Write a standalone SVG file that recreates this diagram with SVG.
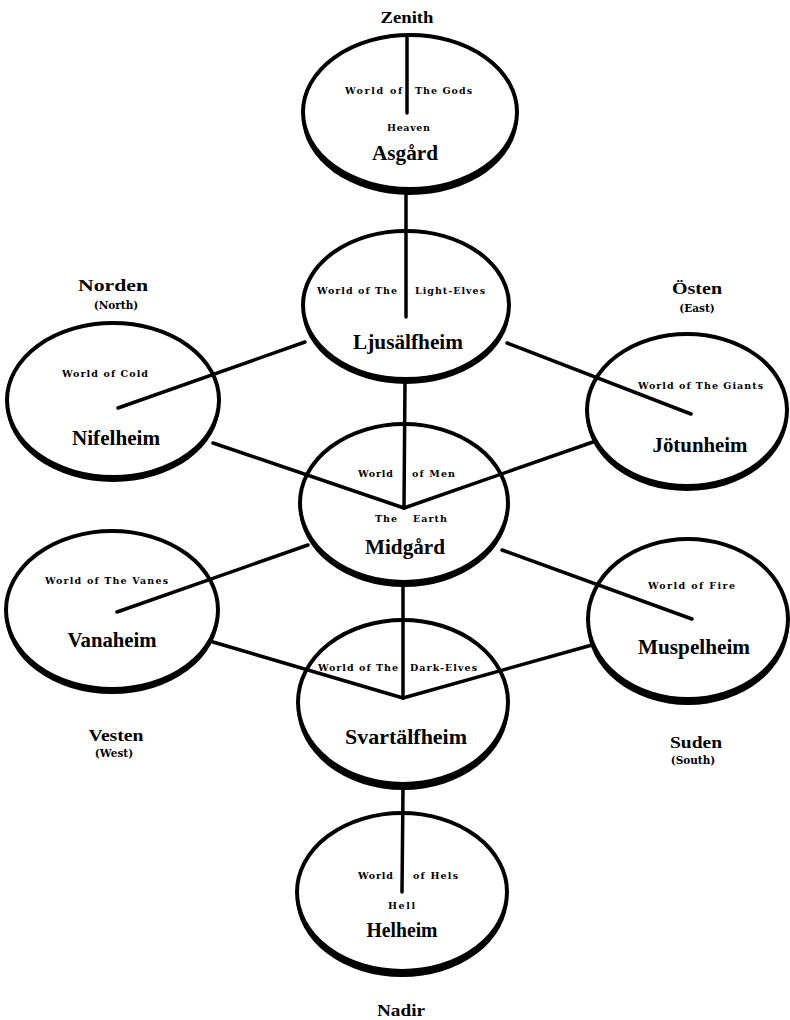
<svg xmlns="http://www.w3.org/2000/svg" width="790" height="1020" viewBox="0 0 790 1020">
<style>
.shadow{fill:#000}
.world{fill:#fff;stroke:#000;stroke-width:4}
.conn line{stroke:#000;stroke-width:3.5;stroke-linecap:round}
.name{font-family:"Liberation Serif","DejaVu Serif",serif;font-weight:bold;font-size:21px;fill:#000;text-anchor:middle}
.sm{font-family:"DejaVu Serif","Liberation Serif",serif;font-weight:bold;font-size:9.5px;fill:#000}
.dir{font-family:"Liberation Serif","DejaVu Serif",serif;font-weight:bold;font-size:17px;fill:#000;text-anchor:middle}
.dsub{font-family:"DejaVu Serif","Liberation Serif",serif;font-weight:bold;font-size:10.5px;fill:#000;text-anchor:middle}
</style>
<rect width="790" height="1020" fill="#fff"/>

<g id="asgard">
<ellipse class="shadow" cx="410" cy="117" rx="108" ry="78"/>
<ellipse class="world" cx="410" cy="112" rx="107" ry="77"/>
<text class="sm" x="345" y="94" textLength="57" lengthAdjust="spacing">World of</text>
<text class="sm" x="415" y="94" textLength="57" lengthAdjust="spacing">The Gods</text>
<text class="sm" x="387" y="131" textLength="43" lengthAdjust="spacing">Heaven</text>
<text class="name" x="405" y="160" textLength="66" lengthAdjust="spacingAndGlyphs">Asgård</text>
</g>

<g id="ljusalfheim">
<ellipse class="shadow" cx="406" cy="309" rx="104" ry="75"/>
<ellipse class="world" cx="406" cy="305" rx="103" ry="74"/>
<text class="sm" x="317" y="294" textLength="80" lengthAdjust="spacing">World of The</text>
<text class="sm" x="415" y="294" textLength="70" lengthAdjust="spacing">Light-Elves</text>
<text class="name" x="408" y="349" textLength="110" lengthAdjust="spacingAndGlyphs">Ljusälfheim</text>
</g>

<g id="nifelheim">
<ellipse class="shadow" cx="113" cy="404" rx="107" ry="78"/>
<ellipse class="world" cx="113" cy="400" rx="106" ry="77"/>
<text class="sm" x="62" y="377" textLength="86" lengthAdjust="spacing">World of  Cold</text>
<text class="name" x="116" y="445" textLength="88" lengthAdjust="spacingAndGlyphs">Nifelheim</text>
</g>

<g id="jotunheim">
<ellipse class="shadow" cx="687" cy="414" rx="101" ry="77"/>
<ellipse class="world" cx="687" cy="410" rx="100" ry="76"/>
<text class="sm" x="638" y="389" textLength="125" lengthAdjust="spacing">World of The Giants</text>
<text class="name" x="700" y="452" textLength="95" lengthAdjust="spacingAndGlyphs">Jötunheim</text>
</g>

<g id="midgard">
<ellipse class="shadow" cx="404" cy="507" rx="105" ry="80"/>
<ellipse class="world" cx="404" cy="503" rx="104" ry="79"/>
<text class="sm" x="358" y="477" textLength="35" lengthAdjust="spacing">World</text>
<text class="sm" x="412" y="477" textLength="43" lengthAdjust="spacing">of Men</text>
<text class="sm" x="375" y="522" textLength="22" lengthAdjust="spacing">The</text>
<text class="sm" x="413" y="522" textLength="34" lengthAdjust="spacing">Earth</text>
<text class="name" x="405" y="554" textLength="80" lengthAdjust="spacingAndGlyphs">Midgård</text>
</g>

<g id="vanaheim">
<ellipse class="shadow" cx="112" cy="614" rx="107" ry="80"/>
<ellipse class="world" cx="112" cy="610" rx="106" ry="79"/>
<text class="sm" x="45" y="584" textLength="123" lengthAdjust="spacing">World of The Vanes</text>
<text class="name" x="112" y="647" textLength="89" lengthAdjust="spacingAndGlyphs">Vanaheim</text>
</g>

<g id="muspelheim">
<ellipse class="shadow" cx="688" cy="624" rx="101" ry="81"/>
<ellipse class="world" cx="688" cy="619" rx="100" ry="80"/>
<text class="sm" x="648" y="589" textLength="87" lengthAdjust="spacing">World of  Fire</text>
<text class="name" x="694" y="654" textLength="112" lengthAdjust="spacingAndGlyphs">Muspelheim</text>
</g>

<g id="svartalfheim">
<ellipse class="shadow" cx="403" cy="707" rx="106" ry="83"/>
<ellipse class="world" cx="403" cy="702" rx="105" ry="82"/>
<text class="sm" x="318" y="671" textLength="80" lengthAdjust="spacing">World of The</text>
<text class="sm" x="410" y="671" textLength="67" lengthAdjust="spacing">Dark-Elves</text>
<text class="name" x="406" y="744" textLength="122" lengthAdjust="spacingAndGlyphs">Svartälfheim</text>
</g>

<g id="helheim">
<ellipse class="shadow" cx="402" cy="897" rx="106" ry="80"/>
<ellipse class="world" cx="402" cy="892" rx="105" ry="79"/>
<text class="sm" x="358" y="879" textLength="35" lengthAdjust="spacing">World</text>
<text class="sm" x="413" y="879" textLength="45" lengthAdjust="spacing">of Hels</text>
<text class="sm" x="388" y="909" textLength="27" lengthAdjust="spacing">Hell</text>
<text class="name" x="402" y="937" textLength="71" lengthAdjust="spacingAndGlyphs">Helheim</text>
</g>

<g id="directions">
<text class="dir" x="407" y="23" textLength="53" lengthAdjust="spacingAndGlyphs">Zenith</text>
<text class="dir" x="113" y="291" textLength="70" lengthAdjust="spacingAndGlyphs">Norden</text>
<text class="dsub" x="116" y="309">(North)</text>
<text class="dir" x="697" y="294" textLength="50" lengthAdjust="spacingAndGlyphs">Östen</text>
<text class="dsub" x="697" y="312">(East)</text>
<text class="dir" x="116" y="741" textLength="55" lengthAdjust="spacingAndGlyphs">Vesten</text>
<text class="dsub" x="114" y="757">(West)</text>
<text class="dir" x="696" y="748" textLength="52" lengthAdjust="spacingAndGlyphs">Suden</text>
<text class="dsub" x="693" y="764">(South)</text>
<text class="dir" x="401" y="1016" textLength="48" lengthAdjust="spacingAndGlyphs">Nadir</text>
</g>

<g id="connectors" class="conn">
<line x1="407" y1="36" x2="407" y2="113"/>
<line x1="406" y1="191" x2="406" y2="317"/>
<line x1="405" y1="380" x2="404" y2="508"/>
<line x1="118" y1="408" x2="305" y2="342"/>
<line x1="691" y1="414" x2="507" y2="343"/>
<line x1="213" y1="443" x2="404" y2="508"/>
<line x1="593" y1="442" x2="404" y2="508"/>
<line x1="117" y1="612" x2="308" y2="545"/>
<line x1="692" y1="619" x2="502" y2="550"/>
<line x1="403" y1="586" x2="403" y2="698"/>
<line x1="213" y1="642" x2="403" y2="698"/>
<line x1="592" y1="645" x2="403" y2="698"/>
<line x1="403" y1="789" x2="402" y2="892"/>
</g>
</svg>
